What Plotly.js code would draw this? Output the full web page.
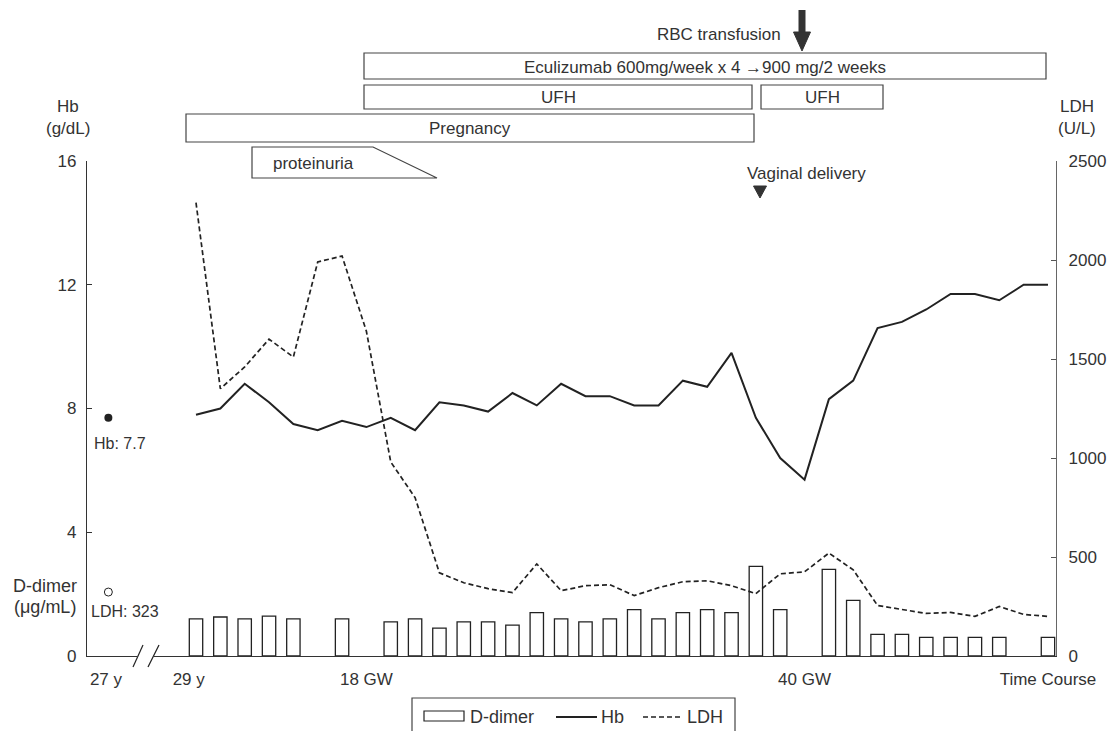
<!DOCTYPE html>
<html><head><meta charset="utf-8">
<script src="https://cdn.plot.ly/plotly-3.0.1.min.js"></script>
<style>html,body{margin:0;padding:0;background:#fff}#chart{width:1112px;height:731px}</style>
</head><body><div id="chart"></div>
<script>
// ---- data ----
const timePoints = [0,1,2,3,4,5,6,7,8,9,10,11,12,13,14,15,16,17,18,19,20,21,22,23,24,25,26,27,28,29,30,31,32,33,34,35];
const hbValues = [7.8,8.0,8.8,8.2,7.5,7.3,7.6,7.4,7.7,7.3,8.2,8.1,7.9,8.5,8.1,8.8,8.4,8.4,8.1,8.1,8.9,8.7,9.8,7.7,6.4,5.7,8.3,8.9,10.6,10.8,11.2,11.7,11.7,11.5,12.0,12.0];
const ldhValues = [2290,1350,1460,1600,1510,1990,2020,1640,980,800,420,370,340,320,465,330,355,360,305,345,375,380,355,315,415,425,520,435,255,235,215,220,200,250,210,200];
const dDimerValues = [1.2,1.26,1.2,1.29,1.2,null,1.2,null,1.1,1.2,0.9,1.1,1.1,1.0,1.4,1.2,1.1,1.2,1.5,1.2,1.4,1.5,1.4,2.9,1.5,null,2.8,1.8,0.7,0.7,0.6,0.6,0.6,0.6,null,0.6];
const baselineTime = [-3.6];
const baselineHb = [7.7];
const baselineLdh = [323];
const xTickPositions = [-3.7,-0.3,7,25,35];
const xTickLabels = ['27 y','29 y','18 GW','40 GW','Time Course'];
const hbTicks = [0,4,8,12,16];
const ldhTicks = [0,500,1000,1500,2000,2500];

// ---- geometry helpers (pixel -> paper) ----
const L=87, R=1056, T=161, B=656, W=R-L, H=B-T;
const px = x => (x-L)/W;
const py = y => (B-y)/H;
const FONT = 'Liberation Sans, Arial, sans-serif';
const TXT = '#333';
const INK = '#222';

const traces = [
  {type:'bar', x:timePoints, y:dDimerValues, width:0.55, name:'D-dimer',
   marker:{color:'#fff', line:{color:INK, width:1.3}}, showlegend:false, hoverinfo:'y'},
  {type:'scatter', mode:'lines', x:timePoints, y:hbValues, name:'Hb',
   line:{color:INK, width:2}, showlegend:false},
  {type:'scatter', mode:'lines', x:timePoints, y:ldhValues, name:'LDH', yaxis:'y2',
   line:{color:INK, width:1.7, dash:'5px,3px'}, showlegend:false},
  {type:'scatter', mode:'markers', x:baselineTime, y:baselineHb, name:'Hb baseline',
   marker:{symbol:'circle', size:8, color:INK}, showlegend:false},
  {type:'scatter', mode:'markers', x:baselineTime, y:baselineLdh, name:'LDH baseline', yaxis:'y2',
   marker:{symbol:'circle-open', size:8, color:INK, line:{width:1}}, showlegend:false}
];

function ann(text, x, y, opt){
  return Object.assign({text:text, xref:'paper', yref:'paper', x:px(x), y:py(y),
    xanchor:'center', yanchor:'middle', showarrow:false,
    font:{family:FONT, size:17, color:TXT}}, opt||{});
}
function rect(x0,y0,x1,y1,opt){
  return Object.assign({type:'rect', xref:'paper', yref:'paper', x0:px(x0), x1:px(x1), y0:py(y0), y1:py(y1),
    line:{color:'#444', width:1.2}, fillcolor:'rgba(0,0,0,0)'}, opt||{});
}
function line(x0,y0,x1,y1,opt){
  return Object.assign({type:'line', xref:'paper', yref:'paper', x0:px(x0), x1:px(x1), y0:py(y0), y1:py(y1),
    line:{color:INK, width:1.2}}, opt||{});
}
function path(points, opt){
  const d = points.map((p,i)=>(i?'L':'M')+px(p[0])+','+py(p[1])).join(' ')+' Z';
  return Object.assign({type:'path', xref:'paper', yref:'paper', path:d, line:{color:'#444', width:1.2}}, opt||{});
}

const shapes = [
  rect(364,53,1046,79),
  rect(364,85,752,109),
  rect(761,85,883,109),
  rect(186,114,754,142),
  path([[252,147],[373,147],[437,178],[252,178]], {fillcolor:'rgba(0,0,0,0)'}),
  // RBC transfusion arrow
  rect(798.5,10,805.5,33,{fillcolor:'#333', line:{width:0}}),
  path([[793.5,32],[810.5,32],[802,51]], {fillcolor:'#333', line:{color:'#333', width:1}}),
  // vaginal delivery marker
  path([[753.5,186],[766.5,186],[760,198]], {fillcolor:'#333', line:{color:'#333', width:1}}),
  // axis break
  rect(137,651,154,661,{fillcolor:'#fff', line:{width:0}}),
  line(133,667,143,645),
  line(148,667,159,645),
  // legend
  rect(412,698,735,745,{line:{color:'#444', width:1.2}}),
  rect(424,711,464,721,{line:{color:INK, width:1.2}}),
  line(556,717,597,717,{line:{color:INK, width:2}}),
  line(643,717,683,717,{line:{color:INK, width:1.7, dash:'5px,3px'}})
];

const annotations = [
  ann('Hb',68,107), ann('(g/dL)',68,128),
  ann('LDH',1077,107), ann('(U/L)',1077,128),
  ann('D-dimer',45,586,{font:{family:FONT,size:18,color:TXT}}),
  ann('(μg/mL)',45,607,{font:{family:FONT,size:18,color:TXT}}),
  ann('Hb: 7.7',120,443,{font:{family:FONT,size:16,color:TXT}}),
  ann('LDH: 323',125,611,{font:{family:FONT,size:16,color:TXT}}),
  ann('RBC transfusion',719,35),
  ann('Eculizumab 600mg/week x 4 \u2192900 mg/2 weeks',705,67),
  ann('UFH',558,97), ann('UFH',822,97),
  ann('Pregnancy',470,128),
  ann('proteinuria',313,163),
  ann('Vaginal delivery',806,173),
  ann('D-dimer',468,717,{xanchor:'left',font:{family:FONT,size:18,color:TXT}}),
  ann('Hb',599,717,{xanchor:'left',font:{family:FONT,size:18,color:TXT}}),
  ann('LDH',685,717,{xanchor:'left',font:{family:FONT,size:18,color:TXT}})
];

const axisCommon = {showgrid:false, zeroline:false, showline:true, linecolor:'#333', linewidth:1.2,
  tickfont:{family:FONT, size:17, color:TXT}, fixedrange:true};

const layout = {
  width:1112, height:731,
  margin:{l:L, r:1112-R, t:T, b:731-B, pad:0},
  paper_bgcolor:'#fff', plot_bgcolor:'#fff',
  font:{family:FONT, size:17, color:TXT},
  showlegend:false,
  xaxis:Object.assign({}, axisCommon, {range:[-4.478,35.33], tickmode:'array', tickvals:xTickPositions,
    ticktext:xTickLabels, ticks:'', ticklabelstandoff:7}),
  yaxis:Object.assign({}, axisCommon, {range:[0,16], tickmode:'array', tickvals:hbTicks,
    ticks:'inside', ticklen:5, tickcolor:'#333', ticklabelstandoff:6}),
  yaxis2:Object.assign({}, axisCommon, {range:[0,2500], overlaying:'y', side:'right', tickmode:'array',
    tickvals:ldhTicks, ticks:'inside', ticklen:5, tickcolor:'#555', linecolor:'#666', ticklabelstandoff:8}),
  shapes:shapes,
  annotations:annotations
};

Plotly.newPlot('chart', traces, layout, {displayModeBar:false, staticPlot:true});
</script>
</body></html>
